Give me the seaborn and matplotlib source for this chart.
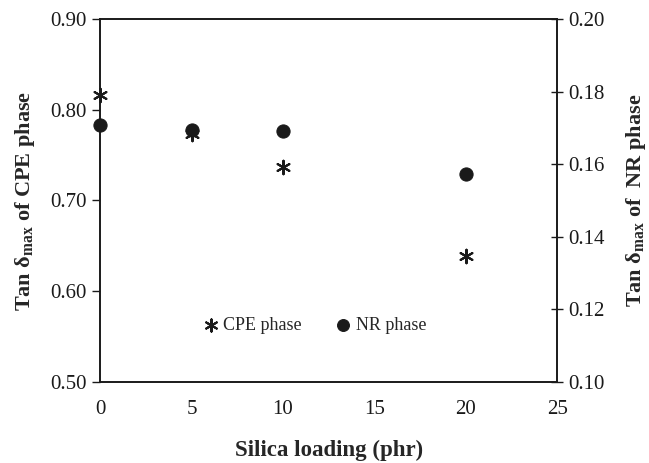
import matplotlib
matplotlib.use("Agg")
import matplotlib.pyplot as plt
import seaborn as sns
import pandas as pd

silica = [0, 5, 10, 20]
cpe_tan = [0.816, 0.773, 0.737, 0.639]
nr_tan = [0.1708, 0.1694, 0.1692, 0.1572]
left_ticks = [0.50, 0.60, 0.70, 0.80, 0.90]
right_ticks = [0.10, 0.12, 0.14, 0.16, 0.18, 0.20]
x_ticks = [0, 5, 10, 15, 20, 25]

sns.set_style("white")
plt.rcParams['font.family'] = ['Liberation Serif', 'DejaVu Serif']
plt.rcParams['mathtext.fontset'] = 'custom'
plt.rcParams['mathtext.rm'] = 'Liberation Serif'
plt.rcParams['mathtext.it'] = 'Liberation Serif:italic'
plt.rcParams['mathtext.bf'] = 'Liberation Serif:bold'

df = pd.DataFrame({"silica": silica, "cpe": cpe_tan, "nr": nr_tan})

fig = plt.figure(figsize=(6.49, 4.63), dpi=100)
ax = fig.add_axes([0.1545, 0.175, 0.704, 0.784])
ax2 = ax.twinx()

sns.scatterplot(data=df, x="silica", y="cpe", ax=ax, marker=(6, 2, 0), s=95,
                color="#1a1a1a", linewidth=1.5, edgecolor="#1a1a1a", label="CPE phase",
                legend=False, clip_on=False, zorder=5)
sns.scatterplot(data=df, x="silica", y="nr", ax=ax2, marker="o", s=90,
                color="#1a1a1a", edgecolor="#1a1a1a", label="NR phase",
                legend=False, clip_on=False, zorder=5)

ax.set_xlim(0, 25)
ax.set_ylim(0.50, 0.90)
ax2.set_ylim(0.10, 0.20)
ax.set_xticks(x_ticks)
ax.set_xticklabels([str(v) for v in x_ticks])
ax.set_yticks(left_ticks)
ax.set_yticklabels([f"{v:.2f}" for v in left_ticks])
ax2.set_yticks(right_ticks)
ax2.set_yticklabels([f"{v:.2f}" for v in right_ticks])

for a in (ax, ax2):
    for s in a.spines.values():
        s.set_color("#1a1a1a")
        s.set_linewidth(1.2)
ax.tick_params(axis='x', direction='in', length=5, width=1, labelsize=15, pad=13, colors="#1a1a1a")
ax.tick_params(axis='y', direction='out', length=6, width=1, labelsize=15, pad=4, colors="#1a1a1a")
ax2.tick_params(axis='y', direction='inout', length=8, width=1, labelsize=15, pad=4, colors="#1a1a1a")

ax.set_xlabel("Silica loading (phr)", fontsize=16.5, fontweight='bold', labelpad=15)
ax.set_ylabel(r"Tan $\mathbf{\delta}_{\mathbf{max}}$ of CPE phase", fontsize=16, fontweight='bold', labelpad=9)
ax2.set_ylabel(r"Tan $\mathbf{\delta}_{\mathbf{max}}$ of  NR phase", fontsize=16, fontweight='bold', labelpad=14)

h1, l1 = ax.get_legend_handles_labels()
h2, l2 = ax2.get_legend_handles_labels()
ax.legend(h1 + h2, l1 + l2, loc='center', bbox_to_anchor=(0.47, 0.155), ncol=2, frameon=False,
          fontsize=13, handlelength=0.8, handletextpad=0.3, columnspacing=1.9, markerscale=0.9)

fig.savefig("out.png", dpi=100)
